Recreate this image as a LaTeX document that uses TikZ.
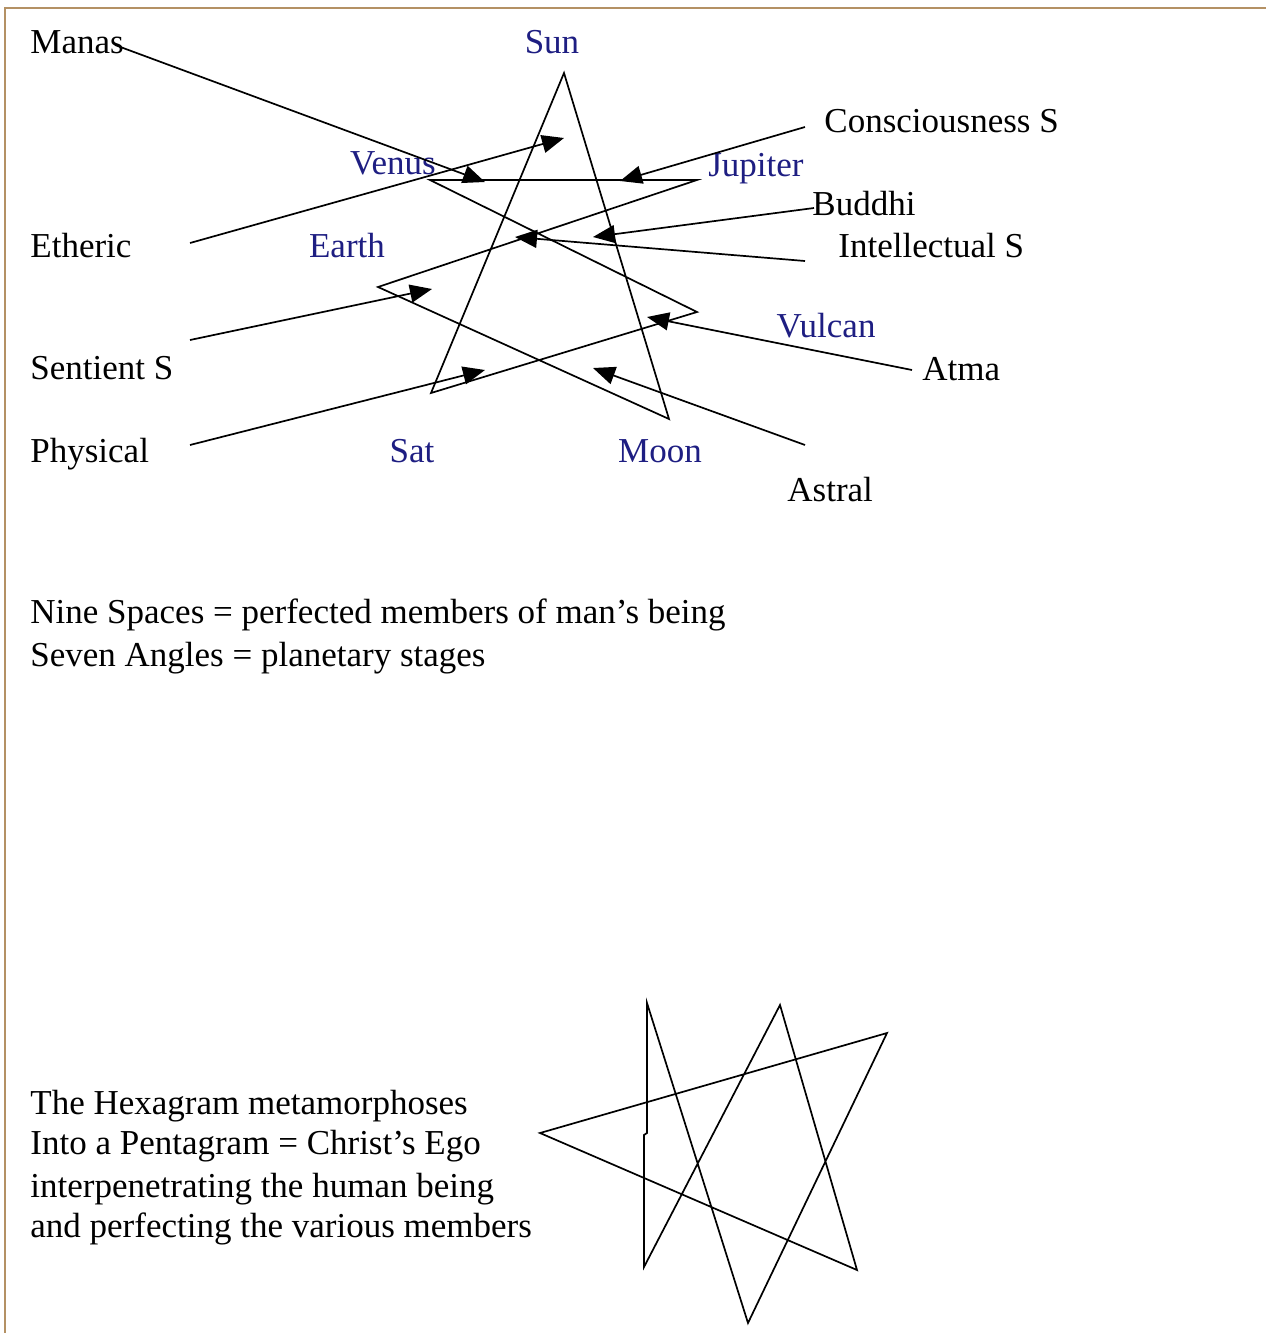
\documentclass[tikz,border=0pt]{standalone}
\usepackage{fontspec}
\setmainfont{Liberation Serif}
\usetikzlibrary{arrows.meta}
\definecolor{frame}{RGB}{180,145,100}
\definecolor{planet}{RGB}{30,30,130}
\tikzset{
  lbl/.style={anchor=base west, inner sep=0pt, font=\fontsize{17.5}{20}\selectfont, text=black},
  pl/.style={anchor=base, inner sep=0pt, font=\fontsize{17.5}{20}\selectfont, text=planet},
  txt/.style={anchor=base west, inner sep=0pt, font=\fontsize{17.5}{20}\selectfont, text=black},
  starline/.style={draw=black, line width=0.85pt, line join=miter},
  arr/.style={draw=black, line width=0.85pt, -{Triangle[length=11pt,width=9pt]}}
}
\begin{document}
\begin{tikzpicture}[x=0.5pt,y=-0.5pt]
\useasboundingbox (0,0) rectangle (1266,1333);
\fill[white] (0,0) rectangle (1266,1333);
\draw[frame, line width=1.3pt] (5,1333) -- (5,8) -- (1266,8);

% labels (y = baseline)
\node[lbl] (manas) at (30,53) {Manas};
\node[pl] (sunL) at (552,53) {Sun};
\node[lbl] (cons) at (824,132) {Consciousness S};
\node[pl] (venusL) at (393,174) {Venus};
\node[pl] (jupL) at (756,176) {Jupiter};
\node[lbl] (buddhi) at (812,215) {Buddhi};
\node[lbl] (etheric) at (30,257) {Etheric};
\node[pl] (earthL) at (347,257) {Earth};
\node[lbl] (intel) at (838,257) {Intellectual S};
\node[pl] (vulcanL) at (826,337) {Vulcan};
\node[lbl] (sentient) at (30,379) {Sentient S};
\node[lbl] (atma) at (922,380) {Atma};
\node[lbl] (physical) at (30,462) {Physical};
\node[pl] (satL) at (412,462) {Sat};
\node[pl] (moonL) at (660,462) {Moon};
\node[lbl] (astral) at (787,501) {Astral};

\node[txt] (t1) at (30,623) {Nine Spaces = perfected members of man’s being};
\node[txt] (t2) at (30,666) {Seven Angles = planetary stages};

\node[txt] (b1) at (30,1114) {The Hexagram metamorphoses};
\node[txt] (b2) at (30,1154) {Into a Pentagram = Christ’s Ego};
\node[txt] (b3) at (30,1197) {interpenetrating the human being};
\node[txt] (b4) at (30,1237) {and perfecting the various members};

% top heptagram vertices
\coordinate (sun) at (564,73);
\coordinate (moon) at (669,419);
\coordinate (earth) at (378,287);
\coordinate (jup) at (697,180);
\coordinate (venus) at (430,180);
\coordinate (vulcan) at (697,312);
\coordinate (sat) at (431,393);
\draw[starline] (sun) -- (moon) -- (earth) -- (jup) -- (venus) -- (vulcan) -- (sat) -- cycle;

% arrow end points
\coordinate (manasS) at (115,45);   \coordinate (manasT) at (485,182);
\coordinate (ethS) at (190,243);    \coordinate (ethT) at (564,138);
\coordinate (consS) at (805,127);   \coordinate (consT) at (620,181);
\coordinate (budS) at (814,208);    \coordinate (budT) at (593,237);
\coordinate (intS) at (805,261);    \coordinate (intT) at (515,237);
\coordinate (sentS) at (190,340);   \coordinate (sentT) at (432,289);
\coordinate (atmaS) at (912,370);   \coordinate (atmaT) at (647,317);
\coordinate (physS) at (190,445);   \coordinate (physT) at (485,370);
\coordinate (astS) at (805,445);    \coordinate (astT) at (593,368);

\draw[arr] (manasS) -- (manasT);
\draw[arr] (ethS) -- (ethT);
\draw[arr] (consS) -- (consT);
\draw[arr] (budS) -- (budT);
\draw[arr] (intS) -- (intT);
\draw[arr] (sentS) -- (sentT);
\draw[arr] (atmaS) -- (atmaT);
\draw[arr] (physS) -- (physT);
\draw[arr] (astS) -- (astT);

% bottom heptagram
\coordinate (A) at (647,1003);
\coordinate (B) at (780,1005);
\coordinate (C) at (887,1033);
\coordinate (D) at (857,1270);
\coordinate (E) at (748,1323);
\coordinate (F) at (644,1267);
\coordinate (G) at (540,1133);
\coordinate (J1) at (644,1135);
\coordinate (J2) at (647,1133);
\draw[starline] (A) -- (E) -- (C) -- (G) -- (D) -- (B) -- (F) -- (J1) -- (J2) -- cycle;
\end{tikzpicture}
\end{document}
